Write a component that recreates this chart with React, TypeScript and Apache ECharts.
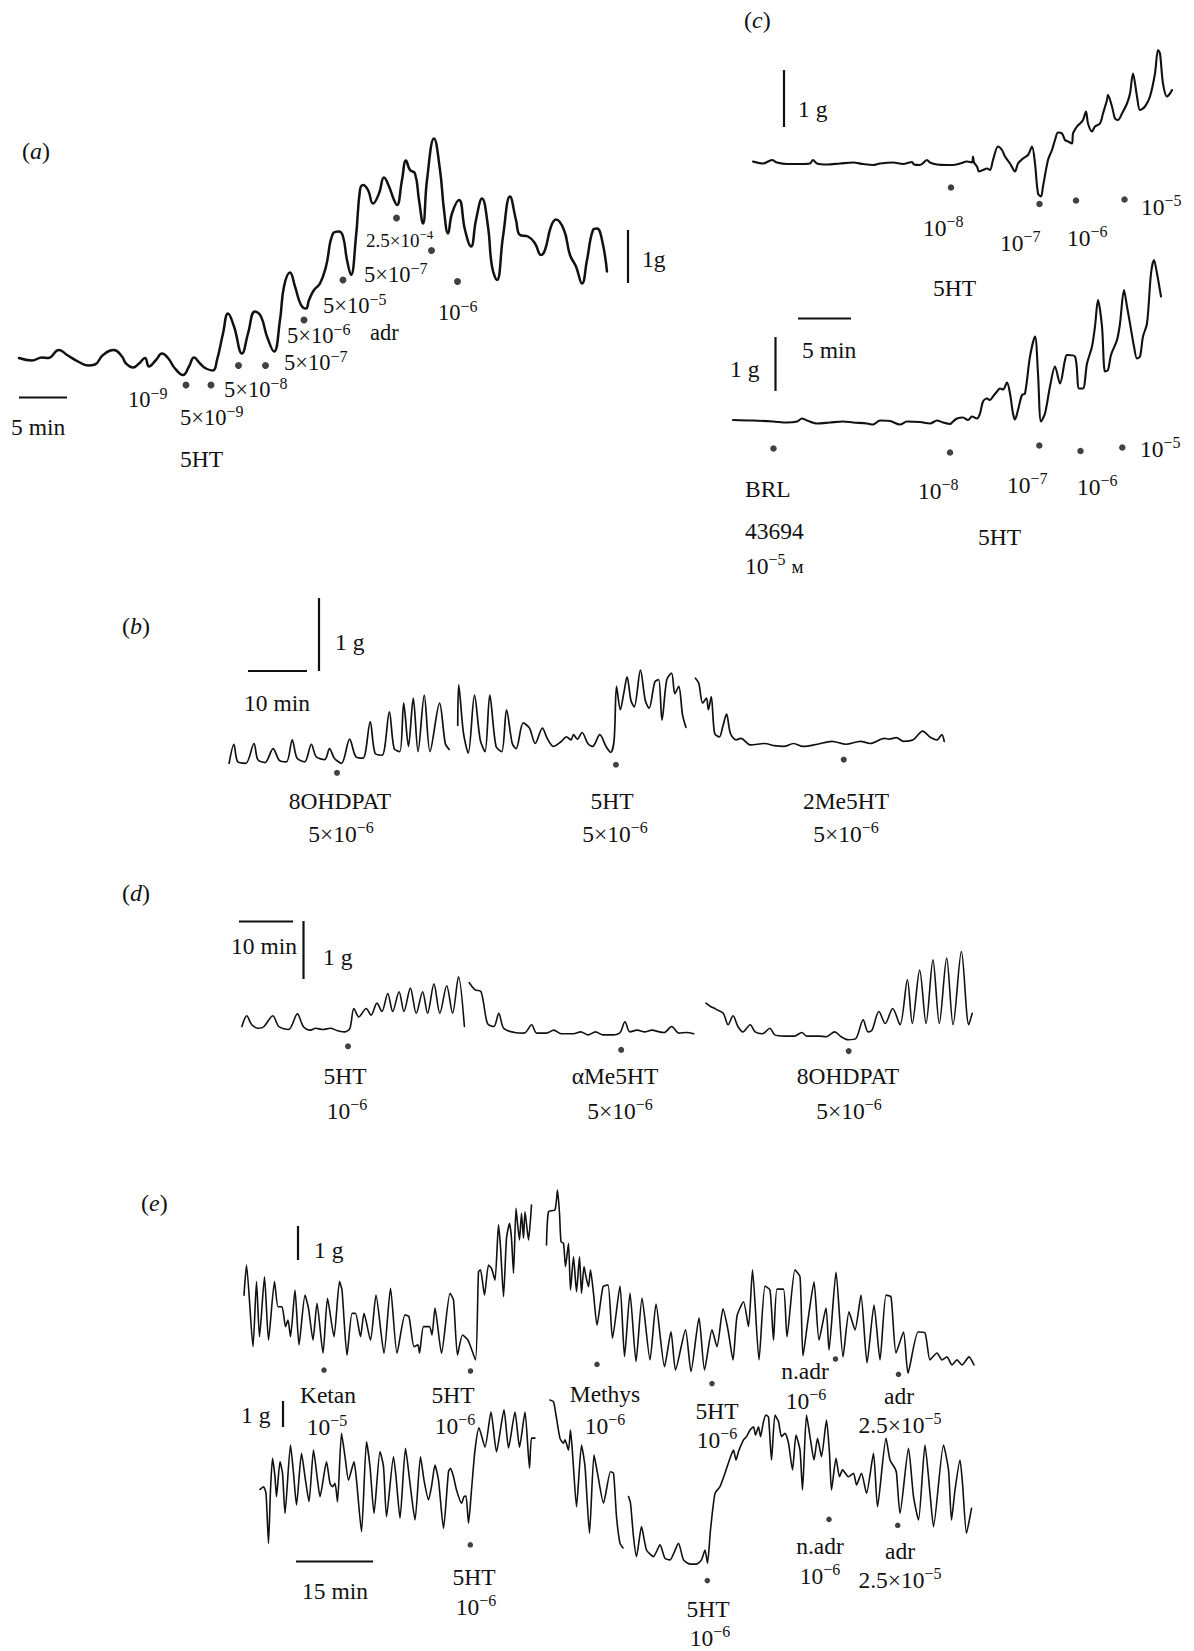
import { useEffect, useRef } from "react";
import * as echarts from "echarts";

type Pt = [number, number];

// ---------- (a) cumulative 5HT, time (min) vs tension (g) ----------
const traceA: Pt[] = [[0,0],[1.3,-0.05],[2.3,0.01],[2.9,0],[4.0,0.16],[4.8,0.06],[5.9,-0.07],[6.9,-0.15],[7.6,-0.13],[8.4,0.06],[9.5,0.16],[10.3,0.03],[10.7,-0.11],[11.4,-0.19],[12.0,-0.11],[12.6,0],[13.0,-0.17],[13.7,-0.04],[14.3,0.09],[14.9,0],[15.6,-0.21],[16.4,-0.34],[17.0,-0.17],[17.5,0.01],[18.1,-0.11],[18.7,-0.21],[19.4,-0.25],[19.8,-0.04],[20.4,0.49],[20.9,0.89],[21.5,0.63],[22.3,0.09],[22.9,0.49],[23.6,0.93],[24.2,0.83],[24.8,0.43],[25.5,0.13],[26.1,0.76],[26.5,1.43],[27.1,1.71],[27.6,1.43],[28.2,1.06],[28.7,0.99],[29.0,1.16],[29.5,1.36],[30.1,1.49],[30.7,1.83],[31.4,2.49],[32.0,2.53],[32.4,2.43],[32.8,1.96],[33.2,1.66],[33.7,2.43],[34.1,3.36],[34.4,3.46],[34.9,3.36],[35.4,3.09],[36.0,3.29],[36.5,3.61],[37.0,3.43],[37.5,3.16],[37.8,3.06],[38.3,3.56],[38.7,3.95],[39.1,3.76],[39.6,3.69],[40.0,3.16],[40.4,2.69],[40.8,3.56],[41.5,4.39],[42.1,3.76],[42.5,2.96],[42.9,2.49],[43.3,2.89],[44.0,3.16],[44.6,2.56],[45.2,2.23],[45.7,2.76],[46.3,3.19],[46.9,2.63],[47.3,1.83],[47.8,1.56],[48.4,2.43],[49.1,3.23],[49.7,2.76],[50.1,2.46],[50.9,2.43],[51.6,2.29],[52.2,2.06],[52.6,2.16],[53.2,2.63],[53.7,2.77],[54.5,2.56],[55.1,2.06],[55.7,1.83],[56.3,1.49],[56.8,1.96],[57.4,2.56],[57.8,2.59],[58.3,2.36],[58.8,1.73]];
const dosesA: Pt[] = [[16.7,-0.54],[19.2,-0.54],[21.95,-0.15],[24.65,-0.15],[28.5,0.76],[32.4,1.56],[37.75,2.8],[41.25,2.15],[43.85,1.53]];

// ---------- (c) top: 5HT alone ----------
const traceCTop: Pt[] = [[0,0.05],[1.0,0.01],[1.9,0.08],[2.4,0.03],[3.4,0],[4.7,0],[5.7,0.01],[6.0,0.08],[6.4,0.01],[7.4,-0.01],[8.7,0.01],[10.0,0.03],[11.0,0],[12.0,-0.02],[12.7,0.01],[14.0,0.03],[15.0,0],[15.9,0.04],[16.1,-0.01],[16.7,-0.02],[17.4,0.08],[17.7,0.03],[18.4,-0.01],[19.4,-0.02],[20.0,-0.02],[20.7,0.01],[21.4,0.05],[21.9,0.03],[22.0,0.15],[22.1,0.03],[22.4,-0.05],[22.6,-0.15],[23.0,-0.12],[23.4,-0.09],[23.7,-0.12],[24.0,0.08],[24.5,0.35],[24.9,0.28],[25.2,0.15],[25.7,0.01],[26.2,-0.15],[26.5,0.01],[27.0,0.11],[27.5,0.18],[27.9,0.35],[28.2,0.01],[28.5,-0.59],[28.8,-0.65],[29.0,-0.45],[29.5,0.08],[29.9,0.28],[30.2,0.48],[30.5,0.63],[30.9,0.61],[31.2,0.48],[31.5,0.45],[31.9,0.41],[32.0,0.61],[32.4,0.75],[32.7,0.81],[33.0,0.88],[33.3,1.05],[33.5,0.81],[33.9,0.65],[34.2,0.75],[34.7,0.81],[35.0,1.01],[35.4,1.28],[35.5,1.38],[35.9,1.15],[36.2,0.91],[36.5,0.88],[36.9,1.01],[37.4,1.21],[37.7,1.41],[38.0,1.81],[38.4,1.35],[38.7,1.08],[39.2,1.15],[39.7,1.35],[40.2,1.81],[40.5,2.28],[40.7,2.21],[41.0,1.61],[41.4,1.35],[41.7,1.41],[41.9,1.48]];
const dosesCTop: Pt[] = [[19.8,-0.47],[28.65,-0.8],[32.3,-0.73],[37.15,-0.71]];

// ---------- (c) bottom: 5HT after BRL 43694 ----------
const traceCBottom: Pt[] = [[0,0.02],[2.0,0.01],[4.0,-0.01],[5.4,-0.03],[6.4,-0.01],[6.9,0.05],[7.4,0.01],[8.4,-0.05],[9.7,-0.03],[11.0,-0.01],[12.0,-0.03],[13.4,-0.05],[14.0,-0.07],[14.7,0.01],[15.7,0],[16.7,-0.07],[17.4,-0.01],[18.7,-0.02],[19.7,-0.05],[20.4,0.01],[21.0,-0.03],[21.7,-0.06],[22.0,-0.01],[22.4,0.05],[23.0,0.07],[23.5,0.02],[23.9,0.09],[24.4,0.05],[24.7,0.15],[25.0,0.39],[25.4,0.45],[25.7,0.42],[26.0,0.49],[26.4,0.59],[26.7,0.65],[27.0,0.63],[27.4,0.77],[27.7,0.55],[28.0,0.15],[28.2,0.03],[28.5,0.22],[28.9,0.52],[29.2,0.55],[29.7,1.29],[30.2,1.69],[30.5,0.95],[30.8,-0.01],[31.2,0.15],[31.7,0.69],[32.2,1.09],[32.7,0.75],[33.2,1.22],[33.4,1.32],[34.2,1.29],[34.6,0.65],[35.0,0.65],[35.4,1.15],[35.9,1.49],[36.2,1.89],[36.5,2.42],[36.9,1.89],[37.2,0.99],[37.5,1.02],[37.8,1.32],[38.4,1.62],[38.7,1.95],[39.1,2.62],[39.4,2.29],[39.7,1.95],[40.1,1.49],[40.4,1.25],[40.7,1.29],[41.0,1.69],[41.4,1.95],[41.8,2.95],[42.1,3.22],[42.4,2.95],[42.8,2.49]];
const dosesCBottom: Pt[] = [[4.05,-0.55],[21.7,-0.63],[30.63,-0.49],[34.75,-0.6],[38.93,-0.53]];

// ---------- (b) 8OHDPAT / 5HT / 2Me5HT ----------
const traceB1: Pt[] = [[0,0],[0.8,0.26],[1.44,0.02],[2.8,0],[4.16,0.27],[4.8,0.05],[6.0,0.01],[7.36,0.2],[8.4,0.04],[9.6,0.02],[10.56,0.32],[11.36,0.07],[12.64,0.02],[13.76,0.26],[14.56,0.09],[16.0,0.05],[16.8,0.2],[17.6,0.07],[18.8,0],[20.16,0.33],[21.2,0.09],[22.4,0.07],[23.6,0.57],[24.4,0.14],[25.6,0.11],[26.8,0.7],[27.6,0.2],[28.56,0.16],[29.2,0.82],[30.0,0.23],[30.8,0.89],[31.6,0.16],[32.64,0.93],[33.6,0.16],[35.2,0.82],[36.16,0.27],[36.8,0.19]];
const traceB2: Pt[] = [[38.24,0.52],[38.4,1.07],[39.2,0.41],[40.0,0.14],[41.04,0.93],[42.0,0.32],[42.8,0.16],[43.6,0.93],[44.64,0.23],[45.6,0.16],[46.4,0.73],[47.36,0.27],[48.0,0.2],[49.2,0.55],[50.24,0.48],[51.2,0.27],[52.4,0.48],[53.2,0.34],[54.24,0.23],[55.6,0.3],[56.4,0.36],[57.2,0.32],[57.6,0.39],[58.24,0.33],[59.04,0.42],[60.0,0.27],[60.8,0.23],[62.0,0.39],[63.04,0.23],[63.84,0.15],[64.4,0.32],[64.8,1.05],[65.44,0.73],[66.0,0.95],[66.56,1.18],[67.2,0.86],[67.76,0.77],[68.8,1.27],[69.6,0.86],[70.24,0.75],[71.2,1.11],[71.84,1.14],[72.4,0.59],[73.2,1.14],[74.0,1.23],[74.56,0.95],[75.2,1.05],[75.84,0.66],[76.4,0.49]];
const traceB3: Pt[] = [[78.0,1.16],[78.56,1.09],[79.2,0.82],[79.84,0.89],[80.16,0.73],[80.64,0.91],[81.2,0.41],[82.0,0.36],[82.56,0.5],[83.2,0.67],[83.84,0.41],[84.8,0.32],[85.6,0.34],[87.2,0.25],[89.6,0.27],[91.2,0.24],[92.8,0.23],[94.4,0.27],[96.0,0.23],[98.4,0.26],[100.8,0.3],[103.2,0.26],[105.6,0.3],[107.2,0.27],[109.6,0.34],[110.4,0.33],[111.6,0.35],[112.8,0.3],[114.4,0.32],[116.0,0.44],[117.2,0.36],[118.4,0.32],[119.2,0.39],[119.6,0.3]];
const dosesB: Pt[] = [[18.05,-0.13],[64.7,-0.02],[102.8,0.05]];

// ---------- (d) 5HT / αMe5HT / 8OHDPAT ----------
const traceD1: Pt[] = [[0,0.03],[0.9,0.21],[1.8,0.06],[3.15,0],[4.05,0.03],[5.67,0.21],[6.75,0.03],[8.55,-0.02],[10.17,0.24],[11.25,0.03],[12.6,-0.03],[13.5,0],[14.85,-0.02],[16.2,0],[17.55,-0.04],[18.9,-0.06],[19.8,0],[20.52,0.33],[21.42,0.19],[22.77,0.33],[23.67,0.22],[24.75,0.42],[25.65,0.28],[26.73,0.58],[27.63,0.28],[28.8,0.61],[29.7,0.28],[30.87,0.67],[31.95,0.25],[33.12,0.61],[34.02,0.25],[35.19,0.74],[36.27,0.25],[37.53,0.71],[38.61,0.25],[39.69,0.86],[40.77,0.03]];
const traceD2: Pt[] = [[41.67,0.76],[42.75,0.64],[43.83,0.61],[45.0,0.08],[46.17,0.03],[47.07,0.25],[47.97,0],[49.95,-0.07],[51.75,-0.08],[53.1,0.06],[54.0,-0.08],[55.8,-0.08],[57.15,-0.03],[58.5,-0.09],[60.75,-0.09],[62.1,-0.06],[63.45,-0.11],[64.8,-0.06],[66.15,-0.11],[67.95,-0.11],[69.3,-0.07],[70.2,0.11],[71.1,-0.06],[72.45,-0.03],[73.8,-0.06],[75.15,-0.03],[76.5,-0.06],[77.4,-0.07],[78.75,0.03],[80.1,-0.08],[81.45,-0.07],[82.8,-0.09]];
const traceD3: Pt[] = [[85.05,0.42],[85.95,0.36],[86.85,0.32],[88.2,0.25],[89.1,0.06],[90.0,0.21],[90.9,0.03],[91.8,-0.06],[93.15,0.06],[94.05,-0.06],[95.4,-0.09],[96.75,0],[97.65,-0.11],[99.45,-0.13],[101.25,-0.13],[102.6,-0.07],[103.5,-0.13],[105.75,-0.13],[107.1,-0.14],[108.63,-0.06],[109.8,-0.14],[111.15,-0.19],[112.5,-0.17],[113.85,0.14],[114.75,-0.06],[115.47,-0.03],[116.73,0.28],[117.9,0.08],[119.25,0.33],[120.6,0.06],[121.95,0.81],[122.85,0.08],[124.2,0.97],[125.37,0.08],[126.63,1.14],[127.8,0.08],[129.15,1.17],[130.32,0.06],[131.85,1.28],[133.2,0.06],[133.83,0.25]];
const dosesD: Pt[] = [[19.44,-0.3],[69.5,-0.36],[111.2,-0.38]];

// ---------- (e) top: Ketan / 5HT / Methys / 5HT / n.adr / adr ----------
const traceETop1: Pt[] = [[0,2.33],[0.5,3.33],[1.8,0.61],[2.5,2.78],[3.1,0.94],[4.1,2.94],[4.9,0.83],[6.1,2.78],[6.8,1.94],[7.6,1.94],[8.3,1.28],[8.8,1.5],[9.3,0.94],[10.2,2.5],[11.0,0.67],[12.2,2.33],[12.9,1.89],[13.8,0.83],[14.6,2.06],[15.8,0.39],[16.7,2.22],[18.0,0.94],[19.1,2.78],[19.6,2.5],[20.6,0.33],[21.6,1.72],[22.3,1.72],[23.3,0.94],[24.0,1.72],[25.3,0.83],[26.4,2.33],[28.0,0.39],[29.3,2.56],[30.6,0.39],[32.2,1.67],[33.0,1.61],[34.0,0.61],[34.8,0.67],[35.1,0.39],[35.9,1.28],[37.1,1.28],[37.6,1.0],[38.2,1.9],[39.5,0.39],[41.2,2.39],[41.9,2.17],[42.7,0.33],[43.7,1.0],[44.8,0.83],[46.3,0.17],[46.9,3.11],[47.3,3.17],[48.1,2.33],[48.9,3.33],[49.5,3.22],[50.2,2.83],[50.9,4.67],[51.3,3.94],[51.9,2.28],[52.5,4.22],[53.1,4.72],[53.5,4.22],[53.9,3.06],[54.4,5.22],[54.7,4.72],[55.1,4.17],[55.5,5.06],[55.9,4.22],[56.2,5.11],[56.9,4.17],[57.5,5.33]];
const traceETop2: Pt[] = [[60.5,4.0],[60.9,5.11],[62.2,5.17],[62.7,5.83],[63.1,5.06],[63.4,4.11],[63.9,4.06],[64.3,3.28],[64.9,4.06],[65.3,2.5],[65.9,3.61],[66.5,2.44],[67.1,3.61],[67.5,2.39],[68.0,3.28],[68.4,2.94],[68.9,2.61],[69.3,3.17],[69.9,2.39],[70.6,1.33],[71.8,2.61],[72.8,2.67],[73.7,0.89],[75.2,2.63],[76.1,0.28],[77.2,2.4],[78.4,0.11],[79.6,2.23],[81.2,0.17],[82.4,2.03],[84.1,-0.06],[85.4,1.11],[86.3,-0.17],[88.3,1.17],[89.4,-0.22],[91.0,1.57],[92.1,-0.17],[93.6,1.17],[94.6,0.61],[95.8,1.87],[96.8,1.17],[97.8,0.17],[98.6,1.63],[99.9,2.11],[100.9,1.28],[101.7,3.17],[103.0,0.17],[104.2,2.63],[105.2,2.5],[105.9,0.83],[106.6,2.53],[107.9,2.53],[108.6,0.94],[110.2,3.17],[111.2,2.94],[111.8,0.3],[112.8,1.5],[114.0,2.77],[115.0,0.83],[116.4,1.9],[117.0,0.5],[118.4,3.1],[119.8,0.27],[121.0,1.77],[122.2,1.17],[123.4,2.33],[124.6,0.07],[126.0,2.0],[127.2,0.17],[128.4,2.33],[129.4,2.27],[130.4,0.4],[131.9,1.1],[132.8,-0.27],[134.8,1.1],[136.2,1.07],[137.2,0.17],[138.6,0.4],[139.6,0.17],[140.6,0.27],[141.6,0],[142.6,0.17],[143.6,0],[145.0,0.27],[146.0,0]];
const dosesETop: Pt[] = [[16.0,-0.17],[45.3,-0.2],[70.6,0.02],[93.6,-0.62],[118.3,0.2],[130.9,-0.31]];

// ---------- (e) bottom ----------
const traceEBot1: Pt[] = [[3.2,2.52],[3.9,2.61],[4.4,2.39],[4.9,0.72],[5.3,2.5],[5.7,3.56],[6.2,2.94],[6.5,2.28],[7.2,3.44],[7.7,3.06],[8.2,1.72],[9.3,4.0],[9.9,3.06],[10.5,2.0],[11.5,3.72],[12.2,2.94],[13.0,2.11],[13.9,3.83],[14.7,2.83],[15.2,2.28],[16.5,3.44],[17.2,2.72],[17.7,2.61],[18.2,2.72],[18.7,2.11],[19.5,4.39],[20.2,3.61],[20.9,2.83],[22.0,3.44],[22.5,2.83],[23.5,1.11],[24.5,4.11],[25.2,3.28],[26.0,1.72],[27.2,3.78],[27.9,3.28],[28.5,1.61],[29.9,3.61],[30.4,2.94],[31.2,1.56],[32.3,3.89],[33.2,2.72],[34.2,1.5],[35.3,3.61],[36.0,2.83],[36.9,2.17],[37.5,2.61],[38.2,3.33],[38.9,2.83],[39.9,1.22],[40.9,3.11],[41.3,3.22],[41.9,2.94],[42.5,2.5],[43.5,2.06],[44.0,2.28],[44.4,2.3],[44.9,1.39],[45.5,2.5],[46.2,3.83],[47.0,4.57],[48.2,3.93],[49.4,5.1],[50.5,3.77],[52.0,5.17],[52.9,3.9],[54.2,5.1],[55.1,3.93],[56.2,5.1],[57.1,3.23],[57.5,4.23],[58.2,4.23]];
const traceEBot2: Pt[] = [[61.2,5.5],[61.9,5.44],[62.4,5.0],[63.2,4.22],[63.9,4.06],[64.2,4.17],[64.9,3.83],[65.3,4.5],[65.8,3.5],[66.5,1.94],[67.5,4.0],[68.2,3.28],[69.1,1.06],[70.0,3.67],[70.7,3.06],[71.9,2.06],[73.3,3.11],[73.9,3.06],[74.5,1.61],[75.2,0.72],[75.8,0.57]];
const traceEBot3: Pt[] = [[76.9,2.28],[77.3,2.06],[77.9,0.94],[78.5,0.28],[79.5,1.28],[80.5,0.5],[81.9,0.28],[83.2,0.67],[84.2,0.22],[85.2,0.17],[86.9,0.72],[87.9,0.17],[89.2,0.03],[90.5,0.03],[91.5,0.17],[92.2,0.5],[92.7,0.06],[93.3,1.17],[94.2,2.39],[95.2,2.61],[96.2,3.06],[97.2,3.56],[97.9,3.83],[98.4,3.5],[98.9,3.78],[99.9,4.17],[100.5,4.28],[101.2,4.5],[101.9,4.61],[102.3,4.33],[102.9,4.61],[103.3,4.28],[103.9,4.78],[104.4,5.0],[104.9,4.93],[105.5,3.5],[106.2,5.0],[106.9,4.78],[107.5,4.28],[108.2,4.39],[108.9,4.06],[109.7,3.17],[110.4,4.33],[111.2,3.83],[111.7,2.5],[112.5,5.0],[113.3,4.17],[114.0,3.5],[114.7,4.22],[115.5,3.61],[116.5,4.83],[117.1,3.72],[117.5,2.5],[118.4,3.56],[119.1,2.94],[119.7,3.17],[120.9,2.94],[121.9,3.06],[122.5,2.67],[123.5,3.06],[124.5,2.39],[125.9,3.72],[126.7,1.94],[128.4,4.22],[129.2,3.5],[130.2,3.22],[130.5,3.06],[131.2,1.72],[132.9,3.89],[133.9,2.28],[134.9,1.5],[136.2,4.0],[137.2,2.39],[137.9,1.28],[139.9,4.0],[140.9,3.17],[141.5,1.5],[142.2,2.5],[143.2,3.5],[143.7,2.72],[144.5,1.06],[145.5,1.89]];
const dosesEBot: Pt[] = [[45.26,0.67],[92.66,-0.52],[117.0,1.52],[130.74,1.32]];

// ---------- texts ----------
type Lbl = [string, number, number, "left" | "center", number];
const LABELS: Lbl[] = [
  ["({i|a})", 22, 151, "left", 24],
  ["5 min", 11, 427, "left", 23.5],
  ["10{s|−9}", 128, 399, "left", 22.5],
  ["5×10{s|−8}", 224, 389, "left", 22.5],
  ["5×10{s|−9}", 180, 417, "left", 22.5],
  ["5HT", 180, 459, "left", 23.5],
  ["5×10{s|−7}", 284, 362, "left", 22.5],
  ["5×10{s|−6}", 287, 335, "left", 22.5],
  ["adr", 370, 332, "left", 22.5],
  ["5×10{s|−5}", 323, 305, "left", 22.5],
  ["2.5×10{s|−4}", 366, 240, "left", 19],
  ["5×10{s|−7}", 364, 274, "left", 22.5],
  ["10{s|−6}", 438, 312, "left", 22.5],
  ["1g", 642, 259, "left", 23.5],
  ["({i|c})", 744, 20, "left", 24],
  ["1 g", 798, 109, "left", 23.5],
  ["10{s|−8}", 923, 228, "left", 23.5],
  ["10{s|−7}", 1000, 243, "left", 23.5],
  ["10{s|−6}", 1067, 238, "left", 23.5],
  ["10{s|−5}", 1141, 207, "left", 23.5],
  ["5HT", 933, 288, "left", 23.5],
  ["5 min", 802, 350, "left", 23.5],
  ["1 g", 730, 369, "left", 23.5],
  ["BRL", 745, 489, "left", 23.5],
  ["43694", 745, 531, "left", 23.5],
  ["10{s|−5} {m|м}", 745, 566, "left", 23.5],
  ["10{s|−8}", 918, 491, "left", 23.5],
  ["10{s|−7}", 1007, 485, "left", 23.5],
  ["10{s|−6}", 1077, 487, "left", 23.5],
  ["10{s|−5}", 1140, 449, "left", 23.5],
  ["5HT", 978, 537, "left", 23.5],
  ["({i|b})", 122, 626, "left", 24],
  ["1 g", 335, 642, "left", 23.5],
  ["10 min", 244, 703, "left", 23.5],
  ["8OHDPAT", 340, 801, "center", 23.5],
  ["5×10{s|−6}", 341, 834, "center", 23.5],
  ["5HT", 612, 801, "center", 23.5],
  ["5×10{s|−6}", 615, 834, "center", 23.5],
  ["2Me5HT", 846, 801, "center", 23.5],
  ["5×10{s|−6}", 846, 834, "center", 23.5],
  ["({i|d})", 122, 893, "left", 24],
  ["10 min", 231, 946, "left", 23.5],
  ["1 g", 323, 957, "left", 23.5],
  ["5HT", 345, 1076, "center", 23.5],
  ["10{s|−6}", 347, 1111, "center", 23.5],
  ["αMe5HT", 615, 1076, "center", 23.5],
  ["5×10{s|−6}", 620, 1111, "center", 23.5],
  ["8OHDPAT", 848, 1076, "center", 23.5],
  ["5×10{s|−6}", 849, 1111, "center", 23.5],
  ["({i|e})", 141, 1203, "left", 24],
  ["1 g", 314, 1250, "left", 23.5],
  ["1 g", 241, 1415, "left", 23.5],
  ["Ketan", 328, 1395, "center", 23.5],
  ["10{s|−5}", 327, 1427, "center", 23.5],
  ["5HT", 453, 1395, "center", 23.5],
  ["10{s|−6}", 455, 1426, "center", 23.5],
  ["Methys", 605, 1394, "center", 23.5],
  ["10{s|−6}", 605, 1426, "center", 23.5],
  ["5HT", 717, 1411, "center", 23.5],
  ["10{s|−6}", 717, 1440, "center", 23.5],
  ["n.adr", 805, 1371, "center", 23.5],
  ["10{s|−6}", 806, 1401, "center", 23.5],
  ["adr", 899, 1396, "center", 23.5],
  ["2.5×10{s|−5}", 900, 1425, "center", 23.5],
  ["5HT", 474, 1577, "center", 23.5],
  ["10{s|−6}", 476, 1607, "center", 23.5],
  ["15 min", 335, 1591, "center", 23.5],
  ["5HT", 708, 1609, "center", 23.5],
  ["10{s|−6}", 710, 1638, "center", 23.5],
  ["n.adr", 820, 1546, "center", 23.5],
  ["10{s|−6}", 820, 1576, "center", 23.5],
  ["adr", 900, 1551, "center", 23.5],
  ["2.5×10{s|−5}", 900, 1580, "center", 23.5],
];

// scale bars (time / force calibration)
const BARS: [number, number, number, number][] = [
  [19, 397.5, 67, 397.5], [628, 230, 628, 283],
  [784, 70, 784, 127], [798, 318.5, 851, 318.5], [775.5, 337, 775.5, 391],
  [248, 671, 307, 671], [319, 598, 319, 671],
  [239, 921.5, 293, 921.5], [303.5, 921, 303.5, 979],
  [298, 1226, 298, 1260], [283, 1401, 283, 1427], [296, 1561.5, 373, 1561.5],
];

const INK = "#111111";
const FONT = "'Liberation Serif', 'Times New Roman', 'DejaVu Serif', serif";

interface Panel {
  x0: number; y0: number; px: number; py: number;
  xMin: number; xMax: number; yMin: number; yMax: number;
  traces: Pt[][]; doses: Pt[]; lw: number; smooth: number; dot: number;
}

const PANELS: Panel[] = [
  { x0: 19, y0: 358, px: 10, py: 50, xMin: 0, xMax: 60, yMin: -1, yMax: 5, traces: [traceA], doses: dosesA, lw: 2.5, smooth: 0.45, dot: 7 },
  { x0: 753, y0: 164, px: 10, py: 50, xMin: 0, xMax: 43, yMin: -1, yMax: 2.6, traces: [traceCTop], doses: dosesCTop, lw: 2.1, smooth: 0.3, dot: 6.5 },
  { x0: 733, y0: 421, px: 10, py: 50, xMin: 0, xMax: 45, yMin: -0.7, yMax: 3.4, traces: [traceCBottom], doses: dosesCBottom, lw: 2.1, smooth: 0.3, dot: 6.5 },
  { x0: 229.1, y0: 763.3, px: 5.979, py: 73.33, xMin: 0, xMax: 120, yMin: -0.3, yMax: 1.4, traces: [traceB1, traceB2, traceB3], doses: dosesB, lw: 1.7, smooth: 0.3, dot: 6 },
  { x0: 241.9, y0: 1028.3, px: 5.457, py: 60, xMin: 0, xMax: 135, yMin: -0.5, yMax: 1.5, traces: [traceD1, traceD2, traceD3], doses: dosesD, lw: 1.6, smooth: 0.3, dot: 6 },
  { x0: 244, y0: 1365, px: 5, py: 30, xMin: 0, xMax: 148, yMin: -0.8, yMax: 6.2, traces: [traceETop1, traceETop2], doses: dosesETop, lw: 1.6, smooth: 0.2, dot: 5.5 },
  { x0: 244, y0: 1565, px: 5, py: 30, xMin: 0, xMax: 148, yMin: -1, yMax: 5.8, traces: [traceEBot1, traceEBot2, traceEBot3], doses: dosesEBot, lw: 1.6, smooth: 0.2, dot: 5.5 },
];

function textEl([text, x, y, align, size]: Lbl) {
  const hasSup = text.indexOf("{s|") >= 0;
  const ss = Math.round(size * 0.7);
  const lh = hasSup ? Math.round(size * 1.26) : Math.round(size * 1.1);
  return {
    type: "text",
    x, y, silent: true,
    style: {
      text, fill: INK, fontFamily: FONT, fontSize: size, lineHeight: lh,
      align, verticalAlign: "middle",
      rich: {
        s: { fontSize: ss, lineHeight: ss, verticalAlign: "top", fontFamily: FONT, fill: INK },
        i: { fontSize: size, lineHeight: lh, fontStyle: "italic", fontFamily: FONT, fill: INK },
        m: { fontSize: Math.round(size * 0.8), lineHeight: lh, fontFamily: FONT, fill: INK },
      },
    },
  };
}

function buildOption() {
  const grid: any[] = [];
  const xAxis: any[] = [];
  const yAxis: any[] = [];
  const series: any[] = [];
  PANELS.forEach((p, i) => {
    grid.push({
      left: p.x0 + p.xMin * p.px,
      top: p.y0 - p.yMax * p.py,
      width: (p.xMax - p.xMin) * p.px,
      height: (p.yMax - p.yMin) * p.py,
      containLabel: false,
    });
    xAxis.push({ type: "value", gridIndex: i, min: p.xMin, max: p.xMax, show: false });
    yAxis.push({ type: "value", gridIndex: i, min: p.yMin, max: p.yMax, show: false });
    p.traces.forEach((seg) => {
      series.push({
        type: "line", xAxisIndex: i, yAxisIndex: i, data: seg,
        showSymbol: false, symbol: "none", smooth: p.smooth, clip: false, silent: true,
        lineStyle: { color: INK, width: p.lw, cap: "round", join: "round" },
      });
    });
    series.push({
      type: "scatter", xAxisIndex: i, yAxisIndex: i, data: p.doses,
      symbol: "circle", symbolSize: p.dot, clip: false, silent: true,
      itemStyle: { color: INK },
    });
  });
  const graphic: any[] = [
    ...BARS.map(([x1, y1, x2, y2]) => ({
      type: "line", silent: true,
      shape: { x1, y1, x2, y2 },
      style: { stroke: INK, lineWidth: 2.2 },
    })),
    ...LABELS.map(textEl),
  ];
  return { animation: false, backgroundColor: "#ffffff", grid, xAxis, yAxis, series, graphic };
}

export default function App() {
  const ref = useRef<HTMLDivElement>(null);
  useEffect(() => {
    if (!ref.current) return;
    const chart = echarts.init(ref.current, undefined, { renderer: "svg" });
    chart.setOption(buildOption() as any);
    return () => chart.dispose();
  }, []);
  return (
    <div
      ref={ref}
      style={{ position: "absolute", left: 0, top: 0, width: 1194, height: 1651, background: "#fff" }}
    />
  );
}
